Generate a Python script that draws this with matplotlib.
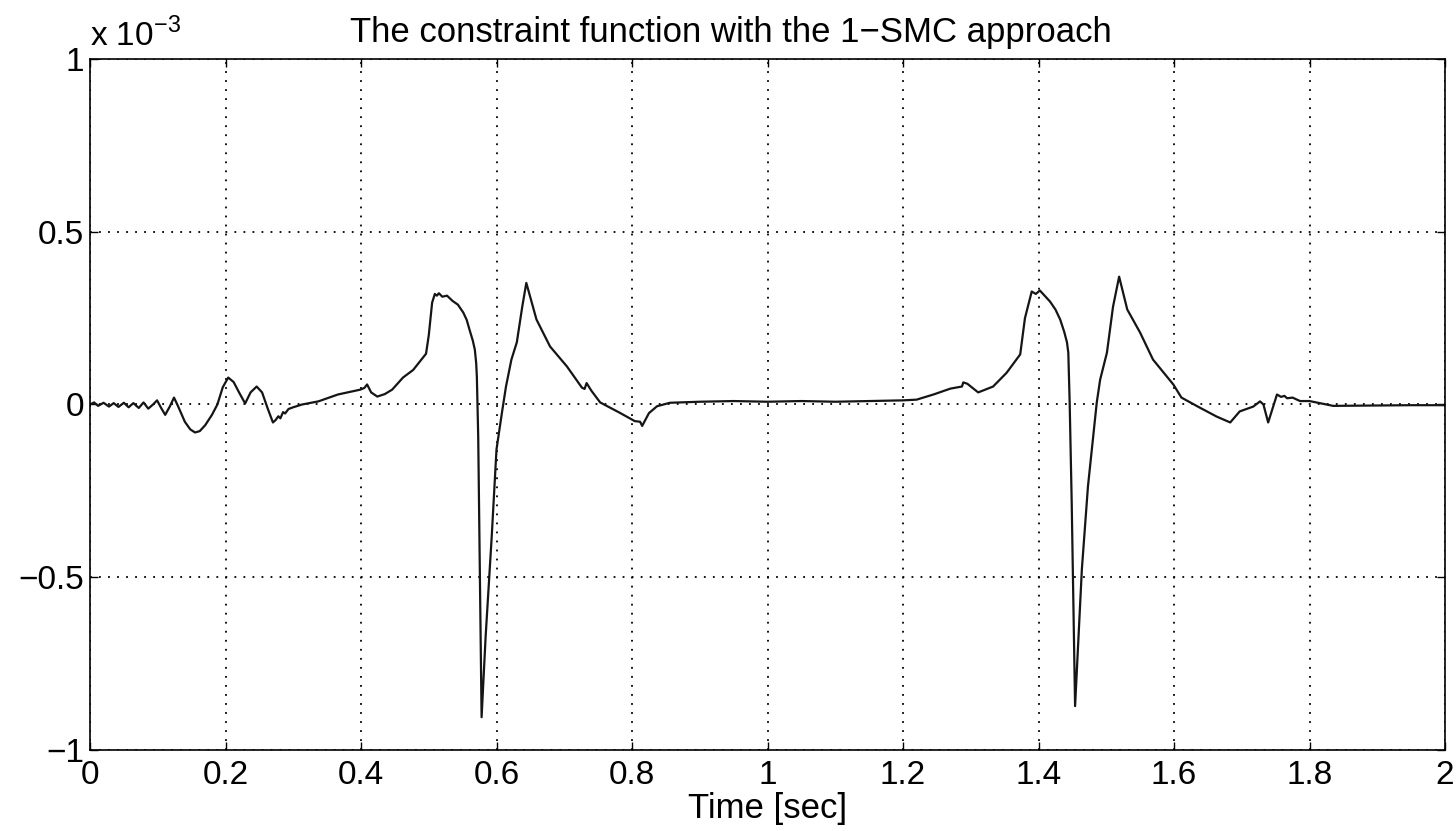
import matplotlib
matplotlib.use("Agg")
import matplotlib.pyplot as plt
from matplotlib.ticker import FixedLocator, FuncFormatter

plt.rcParams['font.family'] = ['Liberation Sans', 'DejaVu Sans']

# time [sec]
t = [0.0, 0.006, 0.012, 0.02, 0.028, 0.035, 0.042, 0.05, 0.057, 0.064, 0.072, 0.079,
     0.086, 0.093, 0.099, 0.105, 0.111, 0.118, 0.124, 0.13, 0.14, 0.148, 0.155, 0.162,
     0.17, 0.18, 0.188, 0.196, 0.204, 0.212, 0.22, 0.229, 0.237, 0.246, 0.254, 0.262,
     0.270, 0.274, 0.278, 0.281, 0.285, 0.288, 0.293, 0.3, 0.313, 0.337, 0.366, 0.399,
     0.405, 0.409, 0.415, 0.424, 0.435, 0.446, 0.462, 0.477, 0.496, 0.5, 0.505, 0.509,
     0.512, 0.515, 0.52, 0.527, 0.535, 0.543, 0.551, 0.556, 0.561, 0.565, 0.568, 0.570,
     0.571, 0.573, 0.576, 0.578, 0.584, 0.593, 0.600, 0.608, 0.614, 0.622, 0.630, 0.638,
     0.644, 0.659, 0.679, 0.704, 0.726, 0.730, 0.733, 0.74, 0.753, 0.782, 0.804, 0.812,
     0.815, 0.825, 0.837, 0.856, 0.9, 0.95, 1.0, 1.05, 1.1, 1.15, 1.2, 1.22, 1.245, 1.27,
     1.287, 1.289, 1.295, 1.311, 1.333, 1.353, 1.373, 1.38, 1.39, 1.396, 1.402, 1.417,
     1.425, 1.432, 1.438, 1.442, 1.444, 1.446, 1.449, 1.454, 1.464, 1.473, 1.486, 1.491,
     1.501, 1.510, 1.519, 1.531, 1.55, 1.569, 1.599, 1.611, 1.638, 1.663, 1.683, 1.697,
     1.717, 1.727, 1.732, 1.739, 1.752, 1.758, 1.763, 1.767, 1.775, 1.786, 1.80, 1.835,
     1.9, 1.95, 2.0]

# constraint function [x 1e-3]
g = [0.0, 0.006, -0.004, 0.005, -0.006, 0.004, -0.007, 0.005, -0.008, 0.004, -0.01, 0.006,
     -0.012, 0.0, 0.012, -0.01, -0.03, -0.005, 0.02, -0.005, -0.05, -0.072, -0.081, -0.077,
     -0.06, -0.03, 0.0, 0.05, 0.078, 0.065, 0.035, 0.003, 0.035, 0.052, 0.035, -0.01,
     -0.052, -0.045, -0.034, -0.04, -0.022, -0.026, -0.013, -0.008, 0.0, 0.009, 0.029, 0.043,
     0.048, 0.058, 0.035, 0.023, 0.030, 0.043, 0.078, 0.10, 0.147, 0.2, 0.295, 0.32,
     0.315, 0.322, 0.312, 0.315, 0.30, 0.289, 0.266, 0.245, 0.211, 0.185, 0.159, 0.12,
     0.081, -0.092, -0.572, -0.905, -0.67, -0.38, -0.13, -0.024, 0.052, 0.13, 0.18, 0.283,
     0.352, 0.246, 0.168, 0.110, 0.049, 0.045, 0.062, 0.04, 0.006, -0.024, -0.048, -0.05,
     -0.062, -0.025, -0.005, 0.005, 0.008, 0.01, 0.008, 0.01, 0.008, 0.01, 0.012, 0.014, 0.029, 0.046,
     0.052, 0.064, 0.06, 0.035, 0.052, 0.092, 0.145, 0.25, 0.327, 0.32, 0.33, 0.298,
     0.275, 0.246, 0.21, 0.18, 0.15, 0.006, -0.283, -0.873, -0.477, -0.237, 0.006, 0.072,
     0.15, 0.283, 0.37, 0.275, 0.208, 0.13, 0.058, 0.02, -0.009, -0.035, -0.052, -0.02,
     -0.006, 0.009, 0.0, -0.052, 0.029, 0.022, 0.025, 0.018, 0.02, 0.01, 0.01, -0.004,
     -0.003, -0.002, -0.002]

xticks = [0, 0.2, 0.4, 0.6, 0.8, 1, 1.2, 1.4, 1.6, 1.8, 2]
yticks = [-1, -0.5, 0, 0.5, 1]

fig = plt.figure(figsize=(14.56, 8.31), dpi=100)
ax = fig.add_axes([90/1456, 1 - 750/831, 1355/1456, 691/831])

ax.plot(t, g, color='#151515', lw=1.6)

ax.set_xlim(0, 2)
ax.set_ylim(-1, 1)
ax.xaxis.set_major_locator(FixedLocator(xticks))
ax.yaxis.set_major_locator(FixedLocator(yticks))
fmt = FuncFormatter(lambda v, p: ('%g' % v).replace('-', '\u2212'))
ax.xaxis.set_major_formatter(fmt)
ax.yaxis.set_major_formatter(fmt)
ax.tick_params(direction='in', length=6, width=1, labelsize=24, top=True, right=True,
               colors='black')
ax.tick_params(axis='x', pad=7)
ax.tick_params(axis='y', pad=4)
for s in ax.spines.values():
    s.set_linewidth(1.2)
    s.set_color('black')

ax.grid(True, color='black', linestyle=(0, (1, 4)), linewidth=1.3)

ax.set_title('The constraint function with the 1\u2212SMC approach', fontsize=25,
             x=(731 - 90) / 1355, pad=12)
ax.set_xlabel('Time [sec]', fontsize=25, labelpad=1)
ax.text(0.0, 1.008, r'x 10$^{\mathregular{-3}}$', transform=ax.transAxes,
        fontsize=24, ha='left', va='bottom')

fig.savefig('out.png', dpi=100)
